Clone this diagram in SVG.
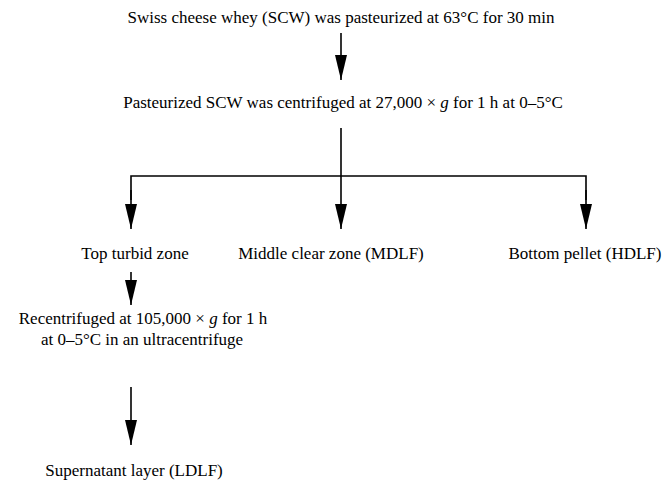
<svg xmlns="http://www.w3.org/2000/svg" width="666" height="484" viewBox="0 0 666 484">
<defs>
<style>
text{font-size:17px;fill:#000;text-anchor:middle}
.c{stroke:#000;stroke-width:1.6;fill:none}
</style>
<marker id="ah" markerUnits="userSpaceOnUse" markerWidth="26" markerHeight="14" refX="25" refY="7" orient="auto" viewBox="0 0 26 14"><path d="M0,1 L25,7 L0,13 Z" fill="#000"/></marker>
</defs>
<rect width="666" height="484" fill="#fff"/>
<g id="connectors">
<line class="c" x1="341" y1="33" x2="341" y2="80" marker-end="url(#ah)"/>
<line class="c" x1="341" y1="128" x2="341" y2="229" marker-end="url(#ah)"/>
<polyline class="c" points="131,200 131,176 586,176 586,200"/>
<line class="c" x1="131" y1="190" x2="131" y2="229" marker-end="url(#ah)"/>
<line class="c" x1="586" y1="190" x2="586" y2="229" marker-end="url(#ah)"/>
<line class="c" x1="131" y1="272" x2="131" y2="305" marker-end="url(#ah)"/>
<line class="c" x1="131" y1="387" x2="131" y2="445" marker-end="url(#ah)"/>
</g>
<g font-family="'Liberation Serif','Times New Roman','DejaVu Serif',serif">
<g id="n1"><text x="341" y="23">Swiss cheese whey (SCW) was pasteurized at 63°C for 30 min</text></g>
<g id="n2"><text x="343" y="108">Pasteurized SCW was centrifuged at 27,000 × <tspan font-style="italic">g</tspan> for 1 h at 0–5°C</text></g>
<g id="n3"><text x="135" y="259">Top turbid zone</text></g>
<g id="n4"><text x="331" y="259">Middle clear zone (MDLF)</text></g>
<g id="n5"><text x="585" y="259">Bottom pellet (HDLF)</text></g>
<g id="n6"><text x="143" y="324">Recentrifuged at 105,000 × <tspan font-style="italic">g</tspan> for 1 h</text><text x="142" y="345">at 0–5°C in an ultracentrifuge</text></g>
<g id="n7"><text x="134" y="476">Supernatant layer (LDLF)</text></g>
</g>
</svg>
